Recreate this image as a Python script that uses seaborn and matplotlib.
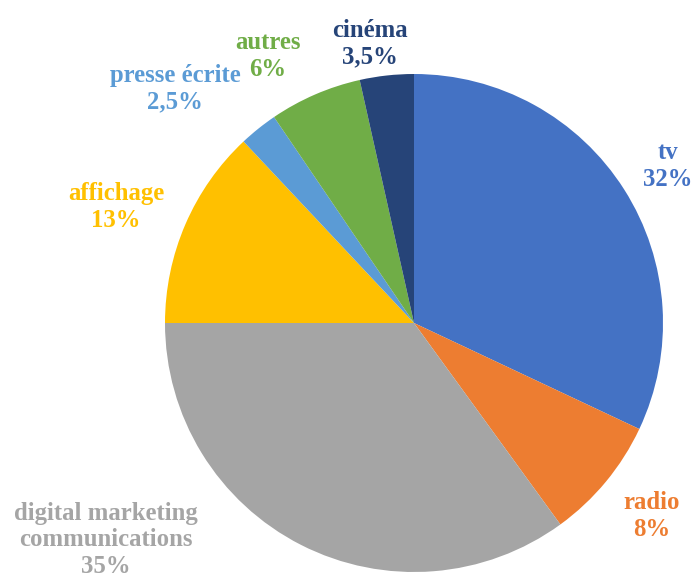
import matplotlib
matplotlib.use('Agg')
import matplotlib.pyplot as plt
import seaborn as sns

# Data
categories = ['tv', 'radio', 'digital marketing\ncommunications', 'affichage',
              'presse écrite', 'autres', 'cinéma']
shares = [32, 8, 35, 13, 2.5, 6, 3.5]
share_labels = ['32%', '8%', '35%', '13%', '2,5%', '6%', '3,5%']
colors = ['#4472C4', '#ED7D31', '#A5A5A5', '#FFC000', '#5B9BD5', '#70AD47', '#264478']

sns.set_theme(style='white')
plt.rcParams['font.family'] = ['Liberation Serif', 'DejaVu Serif']

fig = plt.figure(figsize=(6.94, 5.78), dpi=100)
# pie centre at (414, 323) px, radius ~249 px
cx, cy, r = 414, 323, 249
ax = fig.add_axes([(cx - r) / 694, (578 - cy - r) / 578, 2 * r / 694, 2 * r / 578])

ax.pie(shares, colors=colors, startangle=90, counterclock=False,
       wedgeprops=dict(linewidth=0))
ax.set_xlim(-1, 1)
ax.set_ylim(-1, 1)
ax.set_aspect('auto')
ax.axis('off')

# label centres in pixels, converted to data units
label_px = [(668, 166), (652, 516), (106, 540), (116, 207),
            (175, 89), (268, 56), (370, 44)]
for name, pct, col, (px, py) in zip(categories, share_labels, colors, label_px):
    ax.text((px - cx) / r, (cy - py) / r, f'{name}\n{pct}', color=col,
            ha='center', va='center', fontsize=17.8, fontweight='bold',
            linespacing=1.2, clip_on=False)

fig.savefig('out.png', dpi=100)
